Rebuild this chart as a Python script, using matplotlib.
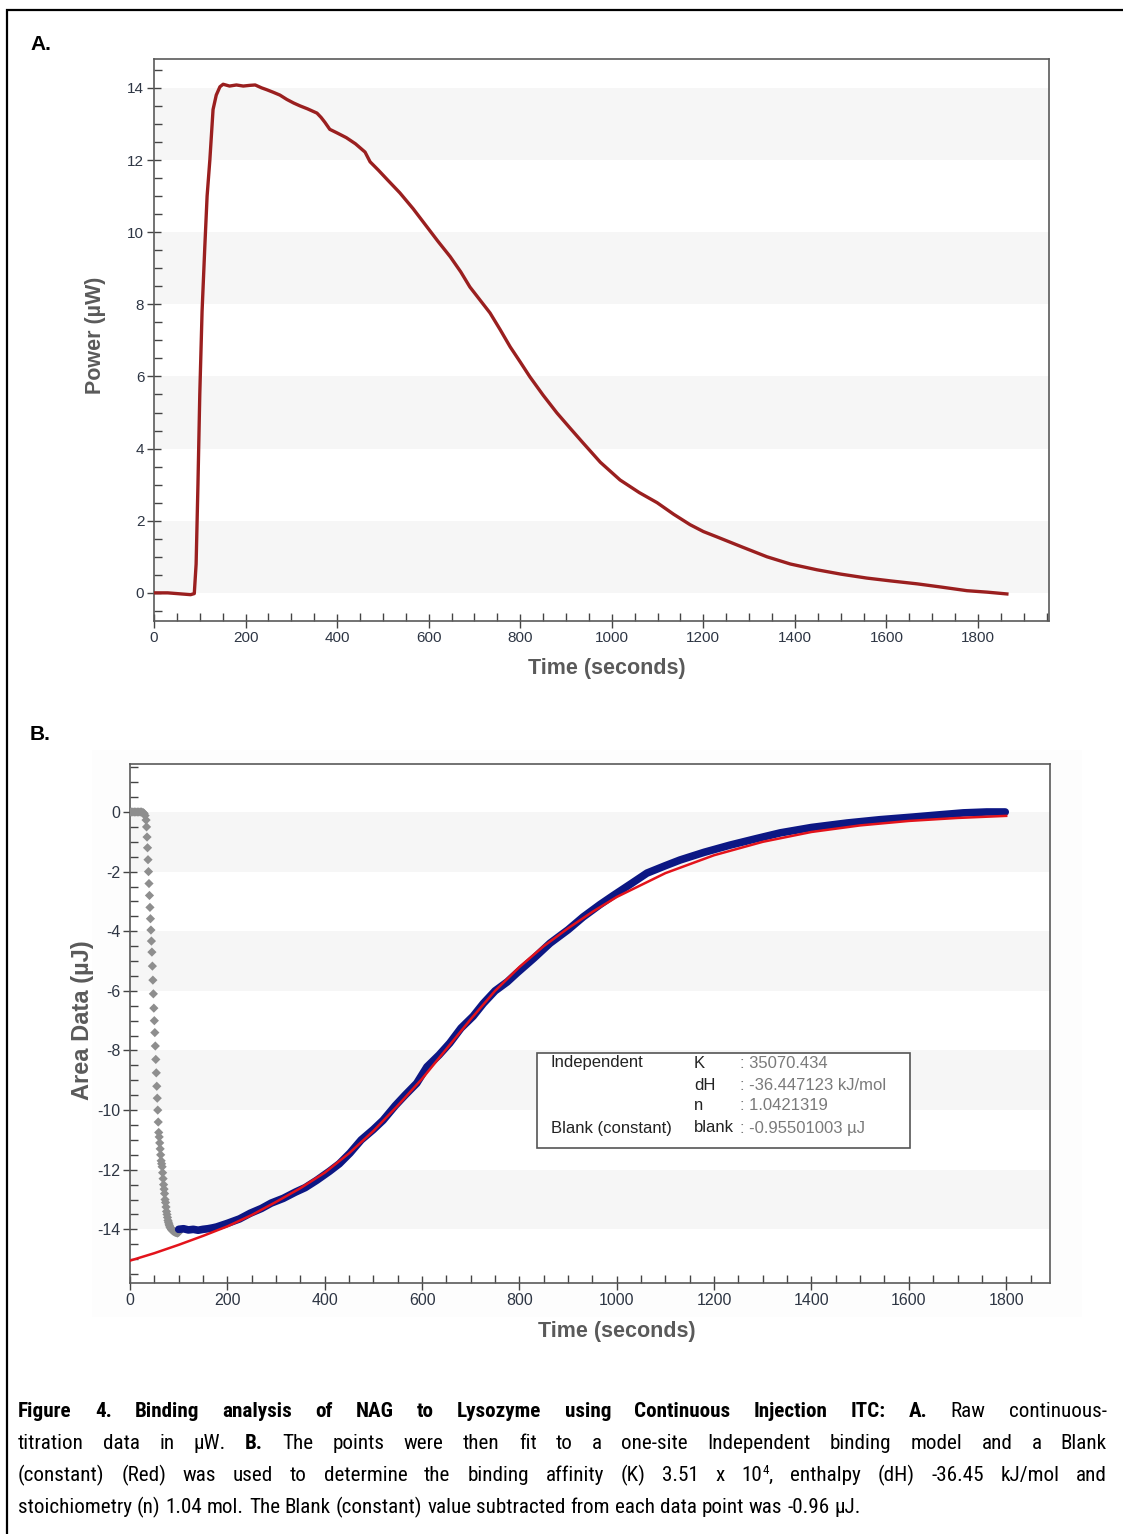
import matplotlib
matplotlib.use('Agg')
import matplotlib.pyplot as plt
from matplotlib import font_manager as fm
from matplotlib.patches import Rectangle
from matplotlib.ticker import MultipleLocator

# ---- data ----
# A: raw power trace
time_a = [0, 30, 60, 80, 88, 92, 96, 100, 105, 111, 116, 122, 129, 136, 144, 151, 165, 180,
          195, 210, 221, 235, 246, 260, 275, 290, 305, 319, 335, 356, 365, 373, 384, 400,
          420, 440, 461, 472, 490, 510, 537, 566, 596, 620, 647, 670, 690, 712, 734, 756,
          778, 800, 821, 850, 880, 910, 937, 975, 1018, 1060, 1099, 1135, 1171, 1200, 1230,
          1285, 1339, 1390, 1448, 1500, 1557, 1610, 1667, 1720, 1776, 1820, 1863]
power_a = [0.0, 0.0, -0.03, -0.05, -0.02, 0.8, 3.0, 5.5, 7.8, 9.6, 11.0, 12.0, 13.4, 13.8,
           14.03, 14.1, 14.05, 14.08, 14.05, 14.07, 14.08, 14.0, 13.95, 13.88, 13.8, 13.68,
           13.58, 13.5, 13.42, 13.3, 13.18, 13.05, 12.85, 12.75, 12.62, 12.45, 12.22, 11.95,
           11.72, 11.45, 11.09, 10.65, 10.15, 9.75, 9.32, 8.9, 8.48, 8.12, 7.76, 7.3, 6.82,
           6.4, 5.99, 5.48, 4.99, 4.55, 4.16, 3.62, 3.13, 2.78, 2.5, 2.18, 1.89, 1.7, 1.55,
           1.27, 1.0, 0.8, 0.64, 0.52, 0.41, 0.33, 0.25, 0.16, 0.06, 0.02, -0.03]

# B: excluded (gray) points
time_gray = [0, 3, 6, 9, 12, 15, 18, 21, 24, 27, 29, 31, 33, 34, 35, 36, 37, 38, 39, 40, 41,
             42, 43, 44, 45, 46, 47, 48, 49, 50, 51, 52, 53, 54, 55, 56, 57, 58, 59, 60, 61,
             62, 63, 64, 65, 66, 67, 68, 69, 70, 71, 72, 73, 74, 75, 76, 77, 78, 79, 80, 81,
             82, 83, 85, 86, 88, 89, 91, 92, 94, 95, 97, 98, 100]
area_gray = [0, 0, 0, 0, 0, 0, 0, 0, 0, -0.02, -0.05, -0.12, -0.27, -0.5, -0.84, -1.2, -1.6,
             -2.0, -2.4, -2.8, -3.2, -3.58, -3.96, -4.33, -4.7, -5.17, -5.64, -6.1, -6.58,
             -7.0, -7.4, -7.85, -8.3, -8.75, -9.2, -9.6, -10.0, -10.4, -10.75, -10.9, -11.1,
             -11.3, -11.5, -11.7, -11.8, -11.9, -12.1, -12.3, -12.5, -12.65, -12.8, -13.0,
             -13.1, -13.25, -13.4, -13.5, -13.6, -13.7, -13.76, -13.82, -13.87, -13.92,
             -13.95, -14.0, -14.02, -14.05, -14.06, -14.08, -14.09, -14.1, -14.11, -14.12,
             -14.12, -14.1]

# B: fitted (blue) points
time_blue = [100, 110, 120, 130, 140, 150, 160, 170, 178, 200, 225, 247, 270, 290, 315, 340,
             360, 384, 410, 430, 452, 475, 500, 520, 545, 565, 589, 610, 635, 657, 680, 705,
             726, 750, 775, 795, 830, 863, 900, 931, 966, 993, 1030, 1062, 1100, 1130, 1180,
             1233, 1285, 1336, 1400, 1473, 1540, 1609, 1660, 1712, 1760, 1798]
area_blue = [-14.0, -13.98, -14.02, -14.0, -14.03, -14.0, -13.98, -13.95, -13.92, -13.8,
             -13.65, -13.46, -13.3, -13.12, -12.96, -12.75, -12.6, -12.35, -12.05, -11.8,
             -11.44, -11.0, -10.65, -10.34, -9.85, -9.5, -9.1, -8.55, -8.15, -7.75, -7.25,
             -6.85, -6.42, -6.0, -5.7, -5.4, -4.9, -4.4, -3.95, -3.52, -3.1, -2.8, -2.4,
             -2.05, -1.8, -1.61, -1.35, -1.11, -0.9, -0.7, -0.52, -0.37, -0.26, -0.17, -0.1,
             -0.03, 0.0, 0.0]

# B: model fit (red)
time_fit = [0, 50, 100, 150, 200, 250, 300, 350, 400, 450, 500, 550, 600, 650, 700, 750, 800,
            850, 900, 950, 1000, 1100, 1200, 1300, 1400, 1500, 1600, 1700, 1800]
area_fit = [-15.05, -14.8, -14.52, -14.22, -13.9, -13.52, -13.08, -12.62, -12.1, -11.45,
            -10.7, -9.85, -8.95, -7.95, -6.95, -6.0, -5.2, -4.5, -3.9, -3.35, -2.85, -2.05,
            -1.45, -1.0, -0.67, -0.45, -0.3, -0.2, -0.13]

fit_names = ["Independent", "", "", "Blank (constant)"]
fit_params = ["K", "dH", "n", "blank"]
fit_values = [": 35070.434", ": -36.447123 kJ/mol", ": 1.0421319", ": -0.95501003 µJ"]

caption = [
    ([("Figure 4. Binding analysis of NAG to Lysozyme using Continuous Injection ITC:  A.", "bold"),
      (" Raw continuous-", "normal")], True),
    ([("titration data in µW.  ", "normal"), ("B.", "bold"),
      (" The points were then fit to a one-site Independent binding model and a Blank", "normal")], True),
    ([("(constant) (Red) was used to determine the binding affinity (K) 3.51 x 10", "normal"),
      ("4", "sup"), (", enthalpy (dH) -36.45 kJ/mol and", "normal")], True),
    ([("stoichiometry (n) 1.04 mol. The Blank (constant) value subtracted from each data point was -0.96 µJ.", "normal")], False),
]

W, H = 1123, 1534
plt.rcParams['font.family'] = ['Liberation Sans', 'DejaVu Sans']
plt.rcParams['axes.unicode_minus'] = False
fig = plt.figure(figsize=(W / 100, H / 100), dpi=100)

def fx(x):
    return x / W

def fy(y):
    return 1 - y / H

def px_axes(l, t, r, b):
    return fig.add_axes([fx(l), fy(b), (r - l) / W, (b - t) / H])

def style_axes(ax, xmax, ylo, yhi, bands, lsize):
    ax.set_xlim(0, xmax)
    ax.set_ylim(ylo, yhi)
    for lo, hi in bands:
        ax.axhspan(lo, hi, color='#f6f6f6', lw=0, zorder=0)
    ax.xaxis.set_major_locator(MultipleLocator(200))
    ax.xaxis.set_minor_locator(MultipleLocator(50))
    ax.yaxis.set_major_locator(MultipleLocator(2))
    ax.yaxis.set_minor_locator(MultipleLocator(0.5))
    for s in ax.spines.values():
        s.set_color('#5a5a5a')
        s.set_linewidth(1.2)
    ax.tick_params(which='major', direction='inout', length=10, width=1, color='#444444',
                   labelsize=lsize, labelcolor='#2e3644', pad=2)
    ax.tick_params(which='minor', direction='in', length=6, width=1, color='#444444')
    ax.tick_params(which='both', top=False, right=False)

# outer frame (right and bottom edges fall outside the page) and faint backdrop of panel B
fig.add_artist(Rectangle((fx(7), fy(1560)), (1140 - 7) / W, (1560 - 10) / H,
                         transform=fig.transFigure, fill=False, lw=1.6, ec='black'))
fig.add_artist(Rectangle((fx(92), fy(1317)), (1082 - 92) / W, (1317 - 750) / H,
                         transform=fig.transFigure, fc='#fdfdfd', ec='none', zorder=-1))

# ---- panel A ----
ax_a = px_axes(154, 59, 1049, 621)
style_axes(ax_a, 1955, -0.78, 14.8, [(0, 2), (4, 6), (8, 10), (12, 14)], 11)
ax_a.plot(time_a, power_a, color='#9a1f1f', lw=2.4, zorder=3)

# ---- panel B ----
ax_b = px_axes(130, 764, 1050, 1283)
style_axes(ax_b, 1890, -15.8, 1.61, [(-2, 0), (-6, -4), (-10, -8), (-14, -12)], 11.5)
ax_b.scatter(time_gray, area_gray, marker='D', s=22, color='#8e8e8e', edgecolors='none', zorder=3)
ax_b.plot(time_blue, area_blue, color='#0c1784', lw=5.5, solid_capstyle='round', zorder=4)
ax_b.plot(time_fit, area_fit, color='#e3131b', lw=1.8, zorder=5)

# fit parameter box
fig.add_artist(Rectangle((fx(537), fy(1148)), (910 - 537) / W, (1148 - 1053) / H,
                         transform=fig.transFigure, fc='white', ec='#555555', lw=1.2, zorder=2))
rows_y = [1063, 1085, 1106, 1128]
for y, name, par, val in zip(rows_y, fit_names, fit_params, fit_values):
    fig.text(fx(551), fy(y), name, fontsize=12, color='#222222', va='center')
    fig.text(fx(694), fy(y), par, fontsize=12, color='#222222', va='center')
    fig.text(fx(740), fy(y), val, fontsize=12, color='#7a7a7a', va='center')

# labels
lab = dict(fontsize=15.5, fontweight='bold', color='#5a5a5a', ha='center', va='center')
fig.text(fx(95), fy(335), "Power (µW)", rotation=90, **lab)
fig.text(fx(607), fy(668), "Time (seconds)", **lab)
fig.text(fx(82), fy(1020), "Area Data (µJ)", rotation=90, **dict(lab, fontsize=17))
fig.text(fx(617), fy(1332), "Time (seconds)", **lab)
fig.text(fx(30), fy(45), "A.", fontsize=15, fontweight='bold', color='black', va='center')
fig.text(fx(30), fy(735), "B.", fontsize=15, fontweight='bold', color='black', va='center')

# ---- caption, justified by hand ----
renderer = fig.canvas.get_renderer()

# the original uses a narrow sans; use one if there is any
entries = fm.fontManager.ttflist
names = {e.name for e in entries}
cap_family = ['Liberation Sans', 'DejaVu Sans']
cap_stretch = 'normal'
for cand in ['Liberation Sans Narrow', 'Arial Narrow', 'Roboto Condensed', 'Noto Sans Condensed',
             'Open Sans Condensed', 'DejaVu Sans Condensed']:
    if cand in names:
        cap_family = [cand, 'DejaVu Sans']
        break
else:
    for fam in ['Liberation Sans', 'Roboto', 'Noto Sans', 'Open Sans', 'DejaVu Sans']:
        if any(e.name == fam and e.stretch in ('condensed', 'semi-condensed') for e in entries):
            cap_family = [fam, 'DejaVu Sans']
            cap_stretch = 'condensed'
            break

cap_size = 14

def words_of(runs):
    words = [[]]
    for text, style in runs:
        parts = text.split(' ')
        for i, p in enumerate(parts):
            if i > 0:
                words.append([])
            if p:
                words[-1].append((p, style))
    return [w for w in words if w]

def make_text(x, y, s, style, size):
    sz = size * 0.62 if style == 'sup' else size
    dy = -7 if style == 'sup' else 0
    return fig.text(fx(x), fy(y + dy), s, fontsize=sz, family=cap_family, fontstretch=cap_stretch,
                    fontweight='bold' if style == 'bold' else 'normal',
                    color='black', va='baseline', ha='left')

def width_of(s, style, size):
    t = make_text(0, 0, s, style, size)
    w = t.get_window_extent(renderer).width
    t.remove()
    return w

# pick the size so that the last (unjustified) line is as long as in the original
last = caption[-1][0][0][0]
cap_size = min(16.5, 14 * 848 / width_of(last, 'normal', 14))
space_w = width_of('a a', 'normal', cap_size) - width_of('aa', 'normal', cap_size)

x_left, x_right = 18, 1107
base = 1417
for runs, justify in caption:
    words = words_of(runs)
    placed = []
    widths = []
    for w in words:
        segs = []
        ww = 0
        for s, style in w:
            t = make_text(0, base, s, style, cap_size)
            sw = t.get_window_extent(renderer).width
            segs.append((t, sw))
            ww += sw
        placed.append(segs)
        widths.append(ww)
    if justify and len(words) > 1:
        gap = (x_right - x_left - sum(widths)) / (len(words) - 1)
    else:
        gap = space_w
    x = x_left
    for segs, ww in zip(placed, widths):
        xs = x
        for t, sw in segs:
            t.set_x(fx(xs))
            xs += sw
        x += ww + gap
    base += 32

fig.savefig('out.png', dpi=100)
